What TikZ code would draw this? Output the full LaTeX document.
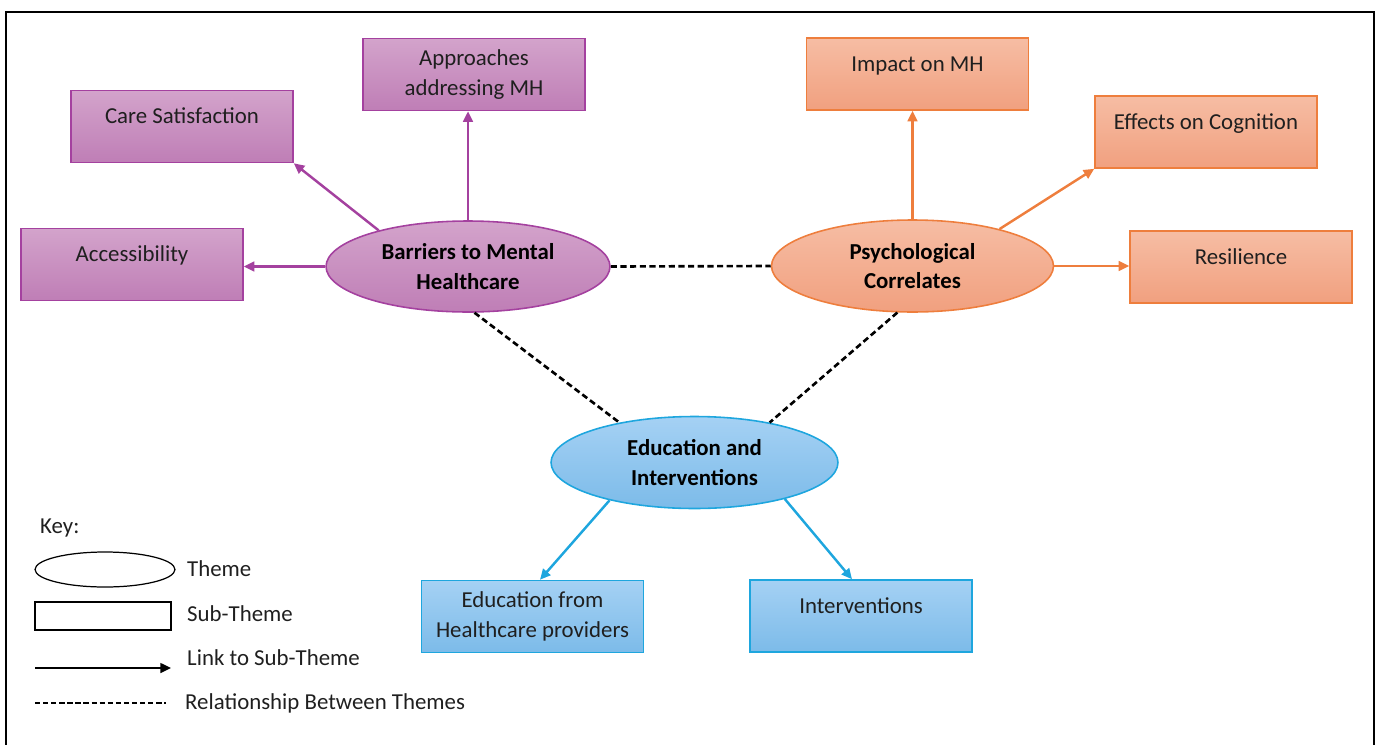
\documentclass[tikz,border=0pt]{standalone}
\usepackage{fontspec}
\setmainfont{Carlito}
\usetikzlibrary{shapes.geometric,arrows.meta}

\definecolor{purpTop}{HTML}{D3A3CB}
\definecolor{purpBot}{HTML}{BF7EB6}
\definecolor{purpLine}{HTML}{A4419F}
\definecolor{oranTop}{HTML}{F6BDA4}
\definecolor{oranBot}{HTML}{F1A07F}
\definecolor{oranLine}{HTML}{EE7E3D}
\definecolor{blueTop}{HTML}{A5D1F4}
\definecolor{blueBot}{HTML}{7CBBE9}
\definecolor{blueLine}{HTML}{1EA6DE}

\tikzset{
  txt/.style={font=\fontsize{13}{17}\selectfont, text=black!88},
  subbox/.style={rectangle, draw, line width=0.9pt, minimum width=4.44cm,
    minimum height=1.44cm, inner sep=0pt, align=center, txt},
  theme/.style={ellipse, draw, line width=0.9pt, inner sep=0pt, align=center,
    txt, font=\fontsize{13}{17}\selectfont\bfseries, text=black},
  purple box/.style={subbox, draw=purpLine, top color=purpTop, bottom color=purpBot},
  orange box/.style={subbox, draw=oranLine, top color=oranTop, bottom color=oranBot},
  blue box/.style={subbox, draw=blueLine, top color=blueTop, bottom color=blueBot},
  toplabel/.style={label={[txt, anchor=base, yshift=-0.68cm]north:#1}},
  link/.style={line width=1.4pt, -{Triangle[length=6pt,width=5.5pt]}},
  relation/.style={line width=1.5pt, dash pattern=on 3.5pt off 2pt},
}

\begin{document}
\begin{tikzpicture}[x=0.02cm, y=-0.02cm]
\useasboundingbox (0,0) rectangle (1379,744);
% outer frame
\draw[line width=1.2pt] (6,760) -- (6,12) -- (1374,12) -- (1374,760);

% themes
\node[theme, draw=purpLine, top color=purpTop, bottom color=purpBot,
  minimum width=5.68cm, minimum height=1.82cm] (bar) at (468,266.5)
  {Barriers to Mental\\Healthcare};
\node[theme, draw=oranLine, top color=oranTop, bottom color=oranBot,
  minimum width=5.64cm, minimum height=1.84cm] (psy) at (912.5,266)
  {Psychological\\Correlates};
\node[theme, draw=blueLine, top color=blueTop, bottom color=blueBot,
  minimum width=5.74cm, minimum height=1.84cm] (edu) at (694.5,462.5)
  {Education and\\Interventions};

% sub-themes of the barriers theme
\node[purple box] (app) at (474,74.5) {Approaches\\addressing MH};
\node[purple box, toplabel={Care Satisfaction}] (care) at (182,126.5) {};
\node[purple box, toplabel={Accessibility}] (acc) at (132,264.5) {};

% sub-themes of the psychological theme
\node[orange box, toplabel={Impact on MH}] (imp) at (917.5,74) {};
\node[orange box, toplabel={Effects on Cognition}] (eff) at (1206,132) {};
\node[orange box, toplabel={Resilience}] (res) at (1241,267) {};

% sub-themes of the education theme
\node[blue box] (efr) at (532.5,616.5) {Education from\\Healthcare providers};
\node[blue box, toplabel={Interventions}] (int) at (861,616) {};

% links to sub-themes
\draw[link, purpLine] (bar.north) -- (bar.north |- app.south);
\draw[link, purpLine] (bar.158) -- (care.south east);
\draw[link, purpLine] (bar.west) -- (bar.west -| acc.east);
\draw[link, oranLine] (psy.north) -- (psy.north |- imp.south);
\draw[link, oranLine] (psy.23) -- (eff.south west);
\draw[link, oranLine] (psy.east) -- (psy.east -| res.west);
\draw[link, blueLine] (edu.-156) -- ([xshift=0.15cm]efr.north);
\draw[link, blueLine] (edu.-22) -- ([xshift=-0.18cm]int.north);

% relationships between themes
\draw[relation] (bar.east) -- (psy.west);
\draw[relation] (bar.-82) -- (edu.152);
\draw[relation] (psy.-108) -- (edu.28);

% key
\node[txt, anchor=base west] (keyttl) at (34,533) {Key:};
\node[ellipse, draw, line width=0.7pt, minimum width=2.8cm, minimum height=0.7cm,
  inner sep=0pt] (kth) at (105,569.5) {};
\node[txt, anchor=west] (kthl) at (181,569) {Theme};
\node[rectangle, draw, line width=0.7pt, minimum width=2.72cm, minimum height=0.56cm,
  inner sep=0pt] (ksub) at (103,616) {};
\node[txt, anchor=west] (ksubl) at (181,614) {Sub-Theme};
\coordinate (kla) at (35,668);
\coordinate (klb) at (171,668);
\draw[link, black, line width=1.2pt] (kla) -- (klb);
\node[txt, anchor=west] (klinkl) at (181,658) {Link to Sub-Theme};
\coordinate (kra) at (35,703);
\coordinate (krb) at (166,703);
\draw[relation, line width=1.1pt, dash pattern=on 3pt off 1.6pt] (kra) -- (krb);
\node[txt, anchor=west] (krell) at (179,703) {Relationship Between Themes};
\end{tikzpicture}
\end{document}
